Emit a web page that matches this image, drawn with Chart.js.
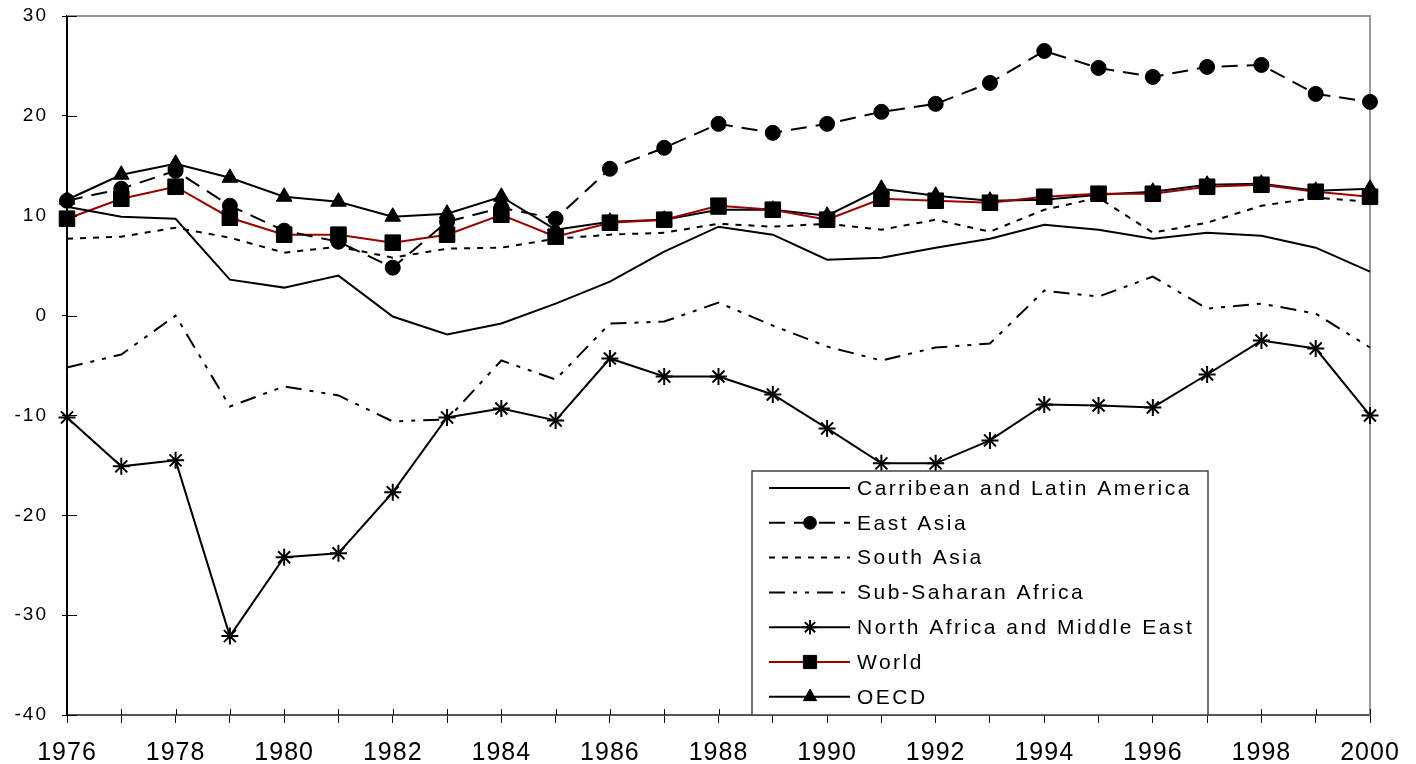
<!DOCTYPE html>
<html>
<head>
<meta charset="utf-8">
<title>Growth by region, 1976-2000</title>
<script src="https://cdn.jsdelivr.net/npm/chart.js@4/dist/chart.umd.min.js"></script>
<style>
  html, body { margin: 0; padding: 0; background: #fff; }
  canvas { display: block; }
</style>
</head>
<body>
<canvas id="grafico" width="1416" height="764"></canvas>
<script>
// values
const years = ['1976', '1977', '1978', '1979', '1980', '1981', '1982', '1983', '1984', '1985', '1986', '1987',
  '1988', '1989', '1990', '1991', '1992', '1993', '1994', '1995', '1996', '1997', '1998', '1999', '2000'];
const yTicks = [-40, -30, -20, -10, 0, 10, 20, 30];

const latinAmerica = [10.9, 9.9, 9.7, 3.6, 2.8, 4.0, -0.1, -1.9, -0.8, 1.2, 3.4, 6.4, 8.9, 8.1, 5.6, 5.8, 6.8, 7.7, 9.1, 8.6, 7.7, 8.3, 8.0, 6.8, 4.4];
const eastAsia = [11.5, 12.7, 14.5, 11.0, 8.5, 7.4, 4.8, 9.4, 10.8, 9.7, 14.7, 16.8, 19.2, 18.3, 19.2, 20.4, 21.2, 23.3, 26.5, 24.8, 23.9, 24.9, 25.1, 22.2, 21.4];
const southAsia = [7.7, 7.9, 8.8, 7.8, 6.3, 6.9, 5.8, 6.7, 6.8, 7.7, 8.1, 8.3, 9.2, 8.9, 9.2, 8.6, 9.6, 8.4, 10.6, 11.8, 8.3, 9.3, 11.0, 11.8, 11.4];
const subSaharan = [-5.2, -3.9, 0.0, -9.1, -7.1, -8.0, -10.6, -10.4, -4.5, -6.4, -0.8, -0.6, 1.3, -1.0, -3.1, -4.5, -3.2, -2.8, 2.5, 1.9, 3.9, 0.7, 1.2, 0.2, -3.2];
const northAfrica = [-10.2, -15.1, -14.5, -32.1, -24.2, -23.8, -17.7, -10.2, -9.3, -10.5, -4.3, -6.1, -6.1, -7.9, -11.3, -14.8, -14.8, -12.5, -8.9, -9.0, -9.2, -5.9, -2.5, -3.3, -10.0];
const world = [9.7, 11.7, 12.9, 9.8, 8.1, 8.1, 7.3, 8.1, 10.1, 7.9, 9.3, 9.6, 11.0, 10.6, 9.6, 11.7, 11.5, 11.3, 11.9, 12.2, 12.2, 12.9, 13.1, 12.4, 11.9];
const oecd = [11.6, 14.1, 15.2, 13.8, 11.9, 11.4, 9.9, 10.2, 11.9, 8.6, 9.4, 9.6, 10.6, 10.6, 10.0, 12.7, 12.0, 11.5, 11.6, 12.1, 12.4, 13.1, 13.2, 12.5, 12.7];

const seriesNames = ['Carribean and Latin America', 'East Asia', 'South Asia', 'Sub-Saharan Africa',
  'North Africa and Middle East', 'World', 'OECD'];

const FONT = "'Liberation Sans', Arial, sans-serif";

function serie(label, data, extra) {
    return Object.assign({
        label: label,
        data: data,
        borderColor: '#000',
        backgroundColor: '#000',
        borderWidth: 2,
        pointRadius: 0,
        pointBorderWidth: 1,
        pointBorderColor: '#000',
        pointBackgroundColor: '#000',
        tension: 0
    }, extra || {});
}

const datasets = [
    serie(seriesNames[0], latinAmerica),
    serie(seriesNames[1], eastAsia, { borderDash: [16, 9], pointStyle: 'circle', pointRadius: 7.5 }),
    serie(seriesNames[2], southAsia, { borderDash: [6, 7] }),
    serie(seriesNames[3], subSaharan, { borderDash: [16, 8, 4, 8, 4, 8] }),
    serie(seriesNames[4], northAfrica, { pointStyle: 'star', pointRadius: 8.5, pointBorderWidth: 2 }),
    serie(seriesNames[5], world, { borderColor: '#990000', pointStyle: 'rect', pointRadius: 11 }),
    serie(seriesNames[6], oecd, { pointStyle: 'triangle', pointRadius: 9 })
];

// frame on top / right, and the inner half of the tick marks
const framePlugin = {
    id: 'frame',
    beforeDatasetsDraw(chart) {
        const { ctx, chartArea: a, scales } = chart;
        ctx.save();
        ctx.strokeStyle = '#999';
        ctx.lineWidth = 2;
        ctx.beginPath();
        ctx.moveTo(a.left, a.top);
        ctx.lineTo(a.right, a.top);
        ctx.lineTo(a.right, a.bottom);
        ctx.stroke();

        ctx.strokeStyle = '#000';
        ctx.lineWidth = 1;
        ctx.beginPath();
        scales.y.ticks.forEach((t, i) => {
            const y = Math.round(scales.y.getPixelForTick(i)) + 0.5;
            ctx.moveTo(a.left, y);
            ctx.lineTo(a.left + 10, y);
        });
        scales.x.ticks.forEach((t, i) => {
            const x = Math.round(scales.x.getPixelForTick(i)) + 0.5;
            ctx.moveTo(x, a.bottom);
            ctx.lineTo(x, a.bottom - 6);
        });
        ctx.stroke();
        ctx.restore();
    }
};

// letter spacing for the tick labels
const spacingPlugin = {
    id: 'spacing',
    afterUpdate(chart) {
        [['y', '2px'], ['x', '1px']].forEach(([id, gap]) => {
            const s = chart.scales[id];
            if (s._spaced) return;
            const orig = s.drawLabels;
            s.drawLabels = function(area) {
                this.ctx.save();
                this.ctx.letterSpacing = gap;
                orig.call(this, area);
                this.ctx.restore();
            };
            s._spaced = true;
        });
    }
};

// boxed legend sitting inside the plot
const boxLegend = {
    id: 'boxLegend',
    afterDraw(chart) {
        const ctx = chart.ctx;
        const box = { left: 752, top: 471, right: 1208, bottom: 715 };
        const firstRow = 488, rowStep = 34.8;
        ctx.save();
        ctx.fillStyle = '#fff';
        ctx.fillRect(box.left, box.top, box.right - box.left, box.bottom - box.top);
        ctx.strokeStyle = '#444';
        ctx.lineWidth = 1.5;
        ctx.strokeRect(box.left, box.top, box.right - box.left, box.bottom - box.top);

        chart.data.datasets.forEach((ds, i) => {
            const y = firstRow + i * rowStep;
            ctx.save();
            ctx.strokeStyle = ds.borderColor;
            ctx.lineWidth = ds.borderWidth;
            ctx.setLineDash(ds.borderDash || []);
            ctx.beginPath();
            ctx.moveTo(769, y);
            ctx.lineTo(850, y);
            ctx.stroke();
            ctx.restore();

            if (ds.pointStyle && ds.pointRadius) {
                ctx.save();
                ctx.fillStyle = ds.pointBackgroundColor;
                ctx.strokeStyle = ds.pointBorderColor;
                ctx.lineWidth = ds.pointBorderWidth;
                Chart.helpers.drawPoint(ctx, {
                    pointStyle: ds.pointStyle,
                    radius: ds.pointRadius * 0.85,
                    rotation: 0,
                    borderWidth: ds.pointBorderWidth
                }, 810, y);
                ctx.restore();
            }

            ctx.save();
            ctx.fillStyle = '#000';
            ctx.font = '21px ' + FONT;
            ctx.letterSpacing = '2.5px';
            ctx.textBaseline = 'middle';
            ctx.textAlign = 'left';
            ctx.fillText(ds.label, 857, y + 1);
            ctx.restore();
        });
        ctx.restore();
    }
};

new Chart(document.getElementById('grafico').getContext('2d'), {
    type: 'line',
    data: { labels: years, datasets: datasets },
    plugins: [framePlugin, spacingPlugin, boxLegend],
    options: {
        responsive: false,
        animation: false,
        events: [],
        layout: { padding: { top: 16, right: 46, left: 0, bottom: 0 } },
        plugins: {
            legend: { display: false },
            tooltip: { enabled: false }
        },
        scales: {
            x: {
                type: 'category',
                offset: false,
                grid: { drawOnChartArea: false, tickLength: 8, tickColor: '#000', tickWidth: 1 },
                border: { color: '#555', width: 2 },
                ticks: {
                    autoSkip: false,
                    maxRotation: 0,
                    padding: 15,
                    color: '#000',
                    font: { family: FONT, size: 25 },
                    callback: function(value, index) {
                        return index % 2 === 0 ? this.getLabelForValue(value) : '';
                    }
                },
                afterFit: function(scale) { scale.height = 49; }
            },
            y: {
                min: yTicks[0],
                max: yTicks[yTicks.length - 1],
                afterBuildTicks: function(scale) {
                    scale.ticks = yTicks.map(v => ({ value: v }));
                },
                grid: { drawOnChartArea: false, tickLength: 5, tickColor: '#000', tickWidth: 1 },
                border: { color: '#000', width: 2 },
                ticks: {
                    padding: 14,
                    color: '#000',
                    font: { family: FONT, size: 19 }
                },
                afterFit: function(scale) {
                    scale.width = 67;
                    scale.paddingTop = 0;
                    scale.paddingBottom = 0;
                }
            }
        }
    }
});
</script>
</body>
</html>
